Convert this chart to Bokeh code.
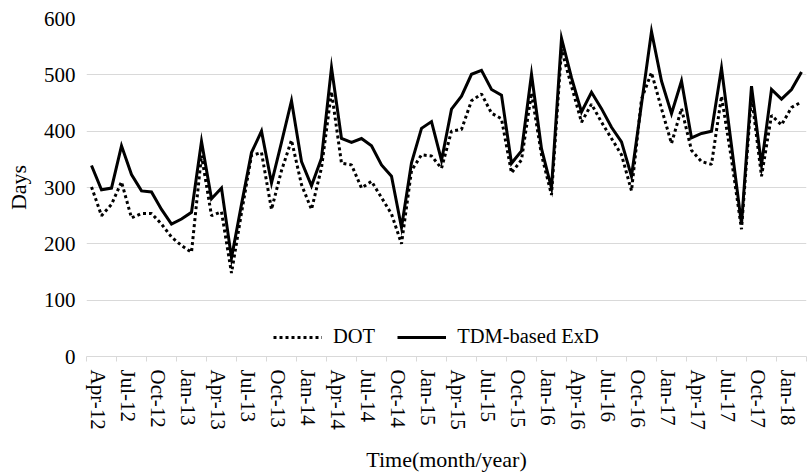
from bokeh.plotting import figure
from bokeh.models import ColumnDataSource, Range1d, FixedTicker, Legend, LegendItem
from bokeh.embed import file_html
from bokeh.resources import INLINE

# ---- data (monthly, Apr-12 .. Mar-18) ----
tick_labels = ["Apr-12", "Jul-12", "Oct-12", "Jan-13", "Apr-13", "Jul-13", "Oct-13", "Jan-14",
               "Apr-14", "Jul-14", "Oct-14", "Jan-15", "Apr-15", "Jul-15", "Oct-15", "Jan-16",
               "Apr-16", "Jul-16", "Oct-16", "Jan-17", "Apr-17", "Jul-17", "Oct-17", "Jan-18"]

dot = [301, 250, 270, 310, 246, 254, 254, 235, 212, 197, 185, 357,
       250, 257, 148, 255, 357, 362, 261, 330, 384, 305, 261, 335,
       470, 343, 340, 299, 311, 282, 253, 200, 330, 358, 356, 334,
       400, 403, 454, 466, 432, 422, 326, 349, 468, 358, 287, 545,
       480, 416, 448, 416, 387, 358, 294, 457, 504, 440, 378, 440,
       366, 346, 341, 462, 350, 226, 463, 320, 428, 411, 442, 452]

tdm = [339, 296, 299, 374, 323, 294, 292, 261, 235, 244, 256, 382,
       280, 299, 175, 270, 362, 400, 308, 380, 454, 346, 303, 352,
       513, 387, 380, 387, 374, 340, 320, 229, 344, 405, 417, 348,
       439, 462, 501, 508, 474, 464, 343, 365, 501, 369, 299, 565,
       495, 434, 469, 440, 407, 381, 320, 448, 577, 489, 431, 489,
       388, 396, 400, 512, 374, 235, 480, 340, 474, 457, 474, 505]

y_ticks = [0, 100, 200, 300, 400, 500, 600]

FONT = "Liberation Serif"

x = list(range(len(dot)))
src = ColumnDataSource(dict(x=x, dot=dot, tdm=tdm))

p = figure(width=809, height=474, output_backend="svg", toolbar_location=None,
           x_range=Range1d(-0.5, len(dot) - 0.5), y_range=Range1d(0, 600),
           min_border_left=86, min_border_right=3, min_border_top=18, min_border_bottom=112)
p.outline_line_color = None
p.background_fill_color = "white"
p.border_fill_color = "white"

r_dot = p.line("x", "dot", source=src, line_color="black", line_width=3,
               line_dash="3 3", line_cap="butt")
r_tdm = p.line("x", "tdm", source=src, line_color="black", line_width=3, line_join="miter")

# x axis
label_pos = [3 * k + 0.6 for k in range(len(tick_labels))]
minor_pos = [3 * k - 0.5 for k in range(len(tick_labels) + 1)]
ax = p.xaxis[0]
ax.ticker = FixedTicker(ticks=label_pos, minor_ticks=minor_pos)
ax.major_label_overrides = {pos: lab for pos, lab in zip(label_pos, tick_labels)}
ax.axis_line_color = "#d9d9d9"
ax.axis_line_width = 1
ax.major_tick_line_color = None
ax.major_tick_out = 0
ax.major_tick_in = 0
ax.minor_tick_line_color = "#d9d9d9"
ax.minor_tick_out = 5
ax.minor_tick_in = 0
ax.major_label_orientation = "vertical"
ax.major_label_standoff = 8
ax.major_label_text_font = FONT
ax.major_label_text_font_size = "21px"
ax.major_label_text_color = "black"
ax.axis_label = "Time(month/year)"
ax.axis_label_text_font = FONT
ax.axis_label_text_font_size = "22px"
ax.axis_label_text_font_style = "normal"
ax.axis_label_text_color = "black"
ax.axis_label_standoff = 14

# y axis
yt = FixedTicker(ticks=y_ticks)
ay = p.yaxis[0]
ay.ticker = yt
ay.axis_line_color = None
ay.major_tick_line_color = None
ay.minor_tick_line_color = None
ay.major_tick_out = 0
ay.major_tick_in = 0
ay.major_label_standoff = 11
ay.major_label_text_font = FONT
ay.major_label_text_font_size = "21px"
ay.major_label_text_color = "black"
ay.axis_label = "Days"
ay.axis_label_text_font = FONT
ay.axis_label_text_font_size = "22px"
ay.axis_label_text_font_style = "normal"
ay.axis_label_text_color = "black"
ay.axis_label_standoff = 10

p.ygrid.ticker = yt
p.ygrid.grid_line_color = "#d9d9d9"
p.ygrid.grid_line_width = 1
p.xgrid.visible = False

legend = Legend(items=[LegendItem(label="DOT", renderers=[r_dot]),
                       LegendItem(label="TDM-based ExD", renderers=[r_tdm])],
                orientation="horizontal", location=(187, 8),
                glyph_width=49, glyph_height=20, label_standoff=11, spacing=22,
                padding=0, margin=0, border_line_color=None, background_fill_alpha=0,
                label_text_font=FONT, label_text_font_size="20.5px", label_text_color="black")
p.add_layout(legend, "center")

open("out.html", "w").write(file_html(p, INLINE))
